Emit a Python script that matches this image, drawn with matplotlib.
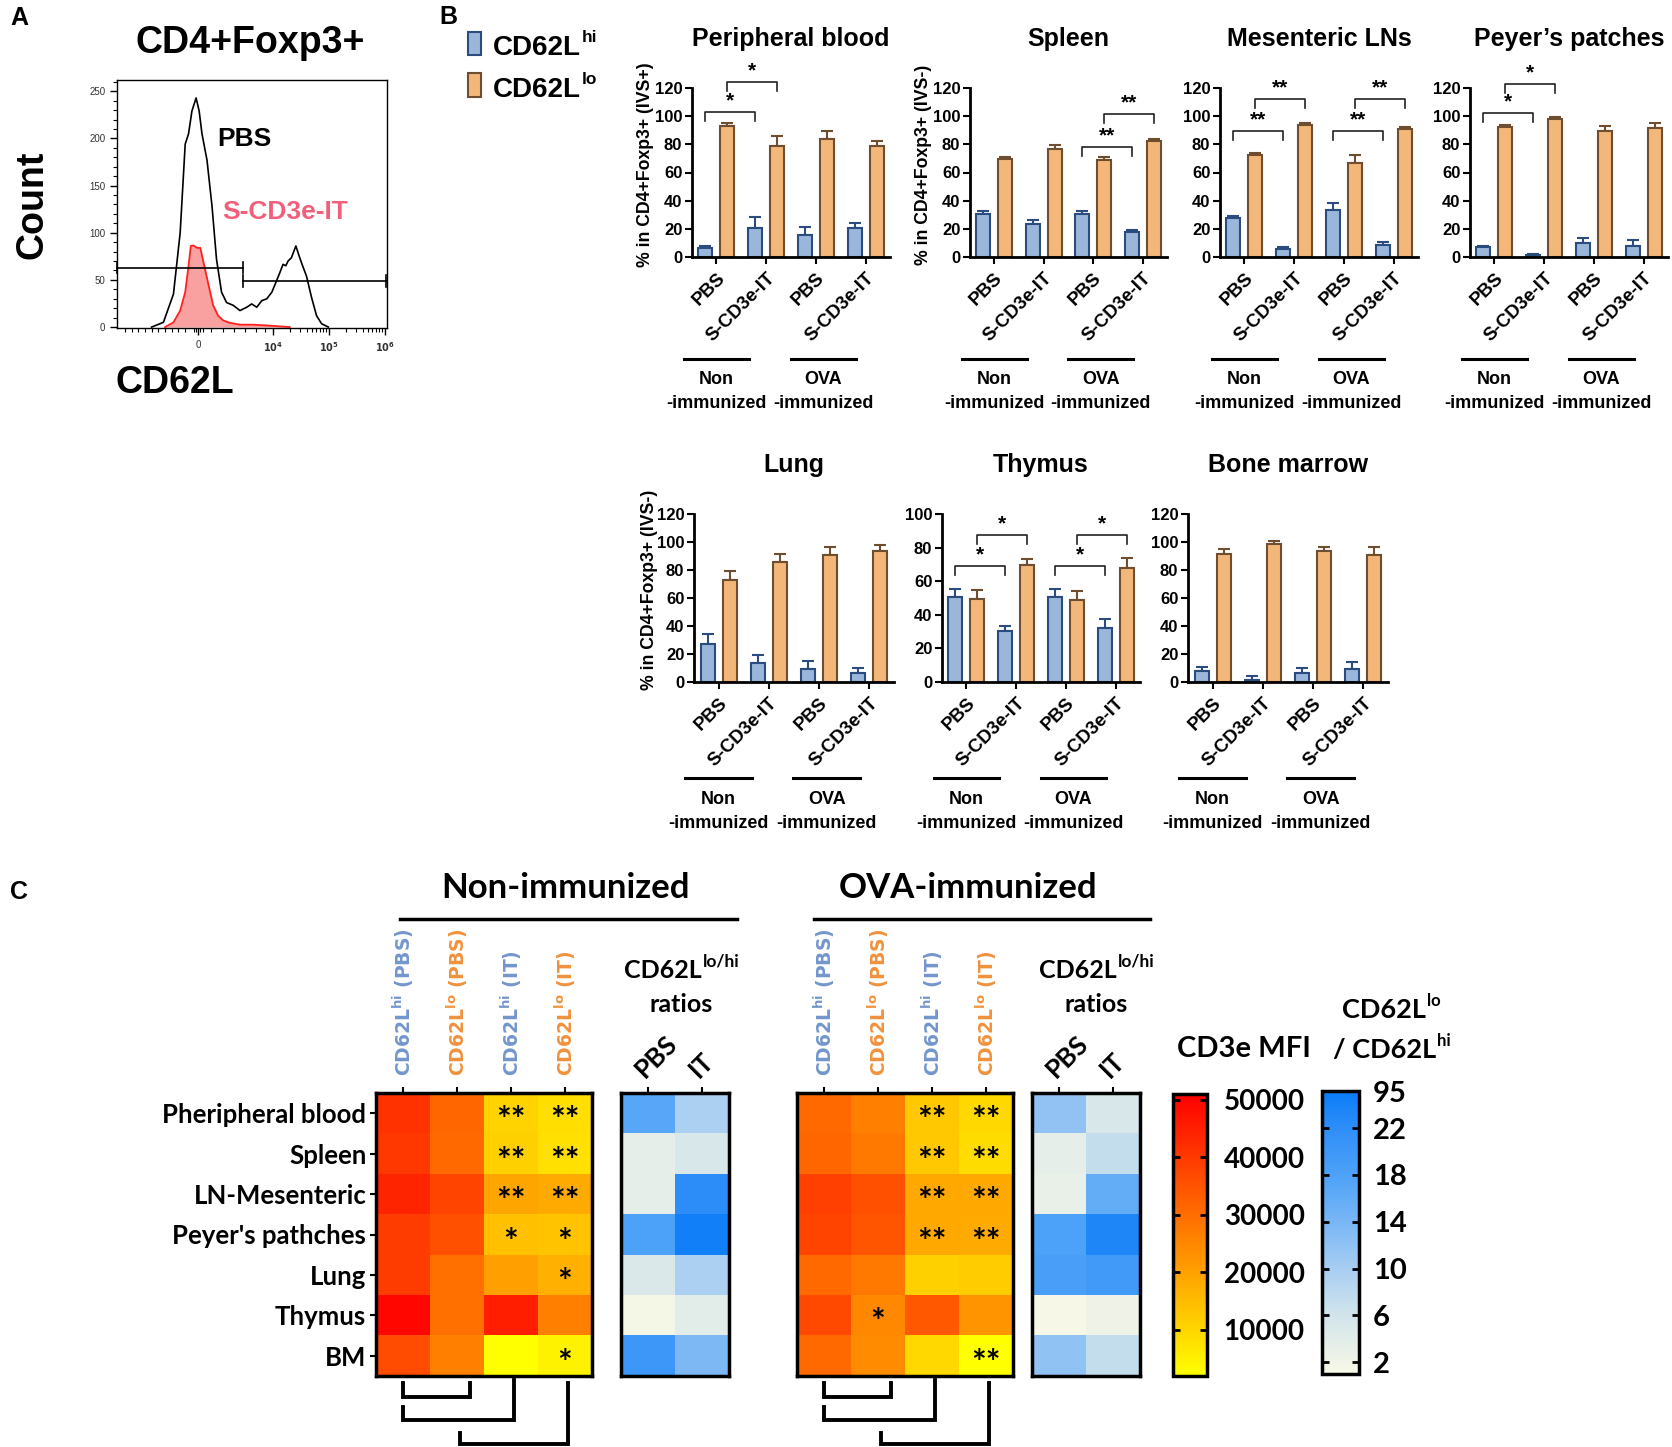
import numpy as np
import matplotlib
matplotlib.use('Agg')
import matplotlib.pyplot as plt
import matplotlib.transforms as mtransforms
import matplotlib.cm as cm
from matplotlib.colors import LinearSegmentedColormap, Normalize, FuncNorm
from matplotlib.patches import Rectangle

plt.rcParams['font.family'] = 'Liberation Sans'
plt.rcParams['font.weight'] = 'bold'

W, H = 1672, 1447
fig = plt.figure(figsize=(W / 100, H / 100), dpi=100)
C_FONT = 'Lato'

# ---------------------------------------------------------------------------
# Data
# ---------------------------------------------------------------------------

# panel A : CD62L histogram (x in decades of the biexponential axis, count)
hist_pbs_x = [1.83, 2.04, 2.22, 2.34, 2.43, 2.49, 2.55, 2.625, 2.68, 2.73, 2.82, 2.91,
              2.99, 3.08, 3.17, 3.29, 3.41, 3.53, 3.62, 3.71, 3.80, 3.89, 3.98, 4.05,
              4.125, 4.18, 4.23, 4.27, 4.33, 4.41, 4.47, 4.53, 4.60, 4.69, 4.78, 4.87, 4.99]
hist_pbs_count = [0, 5, 35, 100, 194, 205, 229, 243, 229, 205, 177, 128,
                  72, 37, 26, 23, 17.5, 21, 24.5, 21, 28, 30, 37, 47,
                  58, 66.5, 65, 70, 73.5, 86, 75, 65, 54, 31.5, 12, 3.5, 0]
hist_it_x = [2.07, 2.22, 2.34, 2.43, 2.49, 2.53, 2.58, 2.64, 2.70, 2.76, 2.85, 2.93,
             3.02, 3.11, 3.23, 3.41, 3.65, 3.89, 4.30]
hist_it_count = [0, 5, 17.5, 37, 65, 86, 86.5, 84, 84, 68, 44, 23,
                 12, 7, 4.5, 2.5, 2.5, 1.7, 0]
gate_lo = [1.21, 3.47, 63]
gate_hi = [3.47, 6.02, 49]

# panel B : % of CD62Lhi / CD62Llo cells (mean and SEM), 4 groups per organ
groups = ['PBS', 'S-CD3e-IT', 'PBS', 'S-CD3e-IT']
organs_b = ['Peripheral blood', 'Spleen', 'Mesenteric LNs', 'Peyer\u2019s patches',
            'Lung', 'Thymus', 'Bone marrow']
ylabels_b = ['% in CD4+Foxp3+ (IVS+)', '% in CD4+Foxp3+ (IVS-)', '', '',
             '% in CD4+Foxp3+ (IVS-)', '', '']
ymax_b = [120, 120, 120, 120, 120, 100, 120]
hi_mean = [[6.4, 20.6, 15.4, 20.6],
           [30.5, 23.4, 30.5, 17.8],
           [27.7, 5.7, 33.1, 8.5],
           [6.9, 1.2, 9.7, 8.0],
           [27.1, 13.5, 9.0, 6.2],
           [50.3, 30.3, 50.7, 31.9],
           [7.6, 1.7, 6.2, 9.3]]
hi_err = [[1.6, 7.6, 5.7, 3.5],
          [1.9, 2.6, 1.9, 1.6],
          [1.6, 1.4, 5.2, 1.9],
          [0.9, 1.2, 3.6, 4.1],
          [6.9, 6.0, 6.2, 4.0],
          [5.3, 3.2, 4.9, 5.5],
          [3.1, 2.3, 3.5, 4.7]]
lo_mean = [[93.3, 78.6, 83.8, 78.6],
           [69.3, 76.7, 68.9, 82.1],
           [72.4, 94.0, 66.7, 90.9],
           [92.3, 98.2, 89.5, 91.6],
           [72.5, 85.6, 90.8, 93.4],
           [49.3, 69.9, 48.9, 68.1],
           [91.7, 98.4, 93.4, 90.8]]
lo_err = [[1.8, 7.3, 5.7, 3.5],
          [1.7, 2.6, 2.1, 1.9],
          [1.4, 1.4, 5.7, 1.4],
          [1.2, 1.0, 3.3, 3.5],
          [6.9, 6.1, 5.7, 4.5],
          [5.2, 3.2, 5.2, 5.6],
          [3.1, 2.1, 3.3, 5.4]]
# significance: (first group, subset, bracket height, label); pairs group g with g+1
sig_b = [[(1, 'hi', 102.7, '*'), (1, 'lo', 124, '*')],
         [(3, 'hi', 78, '**'), (3, 'lo', 101.5, '**')],
         [(1, 'hi', 89.7, '**'), (1, 'lo', 112.2, '**'), (3, 'hi', 89.7, '**'), (3, 'lo', 112.2, '**')],
         [(1, 'hi', 102.2, '*'), (1, 'lo', 123, '*')],
         [],
         [(1, 'hi', 69, '*'), (1, 'lo', 87.3, '*'), (3, 'hi', 69, '*'), (3, 'lo', 87.3, '*')],
         []]

# panel C : CD3e MFI heatmaps and CD62Llo/hi ratios
rows_c = ['Pheripheral blood', 'Spleen', 'LN-Mesenteric', "Peyer's pathches", 'Lung', 'Thymus', 'BM']
cols_c = ['CD62L$^{\\mathbf{hi}}$ (PBS)', 'CD62L$^{\\mathbf{lo}}$ (PBS)',
          'CD62L$^{\\mathbf{hi}}$ (IT)', 'CD62L$^{\\mathbf{lo}}$ (IT)']
ratio_cols = ['PBS', 'IT']
mfi_non = [[41200, 31400, 10300, 8500],
           [39900, 30600, 11000, 8000],
           [44100, 37900, 19300, 18300],
           [39500, 35600, 14100, 13300],
           [39500, 29500, 20300, 17200],
           [49500, 29500, 44900, 26600],
           [36400, 26400, 2000, 4500]]
mfi_ova = [[30600, 26400, 12600, 9500],
           [31400, 27600, 12600, 8700],
           [38700, 35600, 18700, 18700],
           [37900, 34900, 18700, 18300],
           [30600, 27900, 11000, 11800],
           [37200, 24900, 34100, 22600],
           [30600, 24100, 9500, 2000]]
ratio_non = [[17, 9.5], [3.4, 5.3], [3.4, 22], [18, 80], [4.9, 9.5], [1.5, 3.9], [20, 13.6]]
ratio_ova = [[11.9, 5.3], [3.4, 7.3], [2.9, 16], [18, 50], [18.4, 19.4], [1.2, 2.2], [12, 7.3]]
stars_non = [['', '', '**', '**'], ['', '', '**', '**'], ['', '', '**', '**'], ['', '', '*', '*'],
             ['', '', '', '*'], ['', '', '', ''], ['', '', '', '*']]
stars_ova = [['', '', '**', '**'], ['', '', '**', '**'], ['', '', '**', '**'], ['', '', '**', '**'],
             ['', '', '', ''], ['', '*', '', ''], ['', '', '', '**']]
mfi_ticks = [10000, 20000, 30000, 40000, 50000]
ratio_ticks = [2, 6, 10, 14, 18, 22, 95]

# ---------------------------------------------------------------------------
# helpers (positions given in pixels of the 1672x1447 picture, from top-left)
# ---------------------------------------------------------------------------

def ax_px(l, t, r, b):
    return fig.add_axes([l / W, 1 - b / H, (r - l) / W, (b - t) / H])


def ftext(x, y, s, **kw):
    return fig.text(x / W, 1 - y / H, s, **kw)


def sup_text(x, y, base, sup, size, sup_size=None, ha='left', family='Liberation Sans', color='k'):
    # base text + superscript, y is the baseline
    r = fig.canvas.get_renderer()
    sup_size = sup_size or size * 0.62
    t1 = fig.text(0, 0, base, fontsize=size, family=family, weight='bold', color=color,
                  va='baseline', ha='left')
    t2 = fig.text(0, 0, sup, fontsize=sup_size, family=family, weight='bold', color=color,
                  va='baseline', ha='left')
    w1 = t1.get_window_extent(r).width
    w2 = t2.get_window_extent(r).width
    if ha == 'center':
        x = x - (w1 + w2) / 2
    t1.set_position((x / W, 1 - y / H))
    t2.set_position(((x + w1 + 1) / W, 1 - (y - 0.45 * size / 0.72) / H))


# ---------------------------------------------------------------------------
# Panel A
# ---------------------------------------------------------------------------
ftext(10, 18, 'A', fontsize=18, weight='bold', va='center')
ftext(250, 43, 'CD4+Foxp3+', fontsize=27, weight='bold', ha='center', va='center')
ftext(33, 205, 'Count', fontsize=27, weight='bold', rotation=90, ha='center', va='center')
ftext(175, 383, 'CD62L', fontsize=27, weight='bold', ha='center', va='center')

axA = ax_px(117, 80, 387, 328)
axA.fill_between(hist_it_x, hist_it_count, color='#F9A0A0', lw=0)
axA.plot(hist_it_x, hist_it_count, color='#FF2020', lw=1.3)
axA.plot(hist_pbs_x, hist_pbs_count, color='black', lw=1.2)
for g in [gate_lo, gate_hi]:
    axA.plot([g[0], g[1]], [g[2], g[2]], color='black', lw=1.2, clip_on=False)
    axA.plot([g[1], g[1]], [g[2] - 6, g[2] + 6], color='black', lw=1.2, clip_on=False)
    axA.plot([g[0], g[0]], [g[2] - 6, g[2] + 6], color='black', lw=1.2, clip_on=False)
axA.set_xlim(1.21, 6.04)
axA.set_ylim(-1, 262)
axA.set_xticks([2.66, 4, 5, 6])
axA.set_xticklabels(['0', '$10^4$', '$10^5$', '$10^6$'], fontsize=7, weight='normal', color='#333333')
minor_x = list(np.arange(1.35, 2.55, 0.12)) + [2.58, 2.62, 2.70, 2.74, 2.9, 3.1, 3.3, 3.5, 3.7, 3.85]
for d in [4, 5]:
    minor_x += list(d + np.log10(np.arange(2, 10)))
axA.set_xticks(minor_x, minor=True)
axA.set_yticks(range(0, 251, 50))
axA.set_yticks(range(0, 261, 10), minor=True)
axA.tick_params(axis='y', labelsize=7, labelcolor='#333333')
axA.tick_params(which='major', length=5, width=1)
axA.tick_params(which='minor', length=3, width=0.8)
for lbl in axA.get_yticklabels():
    lbl.set_fontweight('normal')
for sp in axA.spines.values():
    sp.set_linewidth(1)
axA.text(3.0, 199.5, 'PBS', fontsize=19, weight='bold', va='center', ha='left')
axA.text(3.09, 122.5, 'S-CD3e-IT', fontsize=19, weight='bold', va='center', ha='left', color='#F0607A')

# ---------------------------------------------------------------------------
# Panel B
# ---------------------------------------------------------------------------
BLUE, BLUE_EDGE = '#9AB6DA', '#2B4C7E'
ORANGE, ORANGE_EDGE = '#F4B77A', '#6E4E2E'

ftext(439, 17, 'B', fontsize=18, weight='bold', va='center')
fig.patches.append(Rectangle((468 / W, 1 - 55 / H), 13 / W, 23 / H, transform=fig.transFigure,
                             facecolor=BLUE, edgecolor=BLUE_EDGE, lw=1.5))
fig.patches.append(Rectangle((468 / W, 1 - 97 / H), 13 / W, 24 / H, transform=fig.transFigure,
                             facecolor=ORANGE, edgecolor=ORANGE_EDGE, lw=1.5))
sup_text(493, 55, 'CD62L', 'hi', 20)
sup_text(493, 97, 'CD62L', 'lo', 20)

layout_b = [(692, 890, 88, 257), (970, 1167, 88, 257), (1220, 1418, 88, 257), (1470, 1668, 88, 257),
            (694, 894, 514, 682), (942, 1140, 514, 682), (1188, 1388, 514, 682)]
ylabel_x = [646, 923, None, None, 649, None, None]

for k in range(7):
    l, r, t, b = layout_b[k]
    ax = ax_px(l, t, r, b)
    x = np.arange(1, 5)
    ax.bar(x - 0.22, hi_mean[k], 0.28, color=BLUE, edgecolor=BLUE_EDGE, lw=1.5, zorder=2)
    ax.bar(x + 0.22, lo_mean[k], 0.28, color=ORANGE, edgecolor=ORANGE_EDGE, lw=1.5, zorder=2)
    ax.errorbar(x - 0.22, hi_mean[k], yerr=[np.zeros(4), hi_err[k]], fmt='none',
                ecolor=BLUE_EDGE, elinewidth=1.5, capsize=4, capthick=1.5, zorder=1)
    ax.errorbar(x + 0.22, lo_mean[k], yerr=[np.zeros(4), lo_err[k]], fmt='none',
                ecolor=ORANGE_EDGE, elinewidth=1.5, capsize=4, capthick=1.5, zorder=1)
    ymax = ymax_b[k]
    ax.set_xlim(0.51, 4.49)
    ax.set_ylim(0, ymax)
    ax.set_yticks(range(0, ymax + 1, 20))
    ax.set_xticks(x)
    ax.set_xticklabels(groups, rotation=45, ha='right', rotation_mode='anchor', fontsize=13.5)
    ax.tick_params(axis='y', labelsize=12, length=5, width=1.5, pad=2)
    ax.tick_params(axis='x', length=5, width=1.5, pad=4)
    for s in ['top', 'right']:
        ax.spines[s].set_visible(False)
    for s in ['left', 'bottom']:
        ax.spines[s].set_linewidth(2)
    ftext((l + r) / 2, t - 49, organs_b[k], fontsize=18, weight='bold', ha='center', va='center')
    if ylabel_x[k]:
        ftext(ylabel_x[k], (t + b) / 2 - 8, ylabels_b[k], fontsize=12.7, weight='bold',
              rotation=90, ha='center', va='center')
    # significance brackets
    leg = 0.054 * ymax
    for g, sub, ytop, lab in sig_b[k]:
        off = -0.22 if sub == 'hi' else 0.22
        x1, x2 = g + off, g + 1 + off
        ax.plot([x1, x1, x2, x2], [ytop - leg, ytop, ytop, ytop - leg], color='#222222',
                lw=1.2, clip_on=False)
        ax.text((x1 + x2) / 2, ytop + 0.01 * ymax, lab, ha='center', va='bottom',
                fontsize=15, weight='bold')
    # immunization group lines
    tr = mtransforms.blended_transform_factory(ax.transData, fig.transFigure)
    yl = 359 if k < 4 else 778
    for xc, name in [(1.0, 'Non'), (3.15, 'OVA')]:
        ax.plot([xc - 0.66, xc + 0.66], [1 - yl / H] * 2, color='black', lw=2.2,
                transform=tr, clip_on=False)
        ax.text(xc, 1 - (yl + 21) / H, name, transform=tr, ha='center', va='center', fontsize=13)
        ax.text(xc, 1 - (yl + 45) / H, '-immunized', transform=tr, ha='center', va='center',
                fontsize=13)

# ---------------------------------------------------------------------------
# Panel C
# ---------------------------------------------------------------------------
ftext(10, 892, 'C', fontsize=18, weight='bold', va='center')

mfi_cmap = LinearSegmentedColormap.from_list('mfi', ['#FFFF00', '#FF0000'])
mfi_norm = Normalize(vmin=2000, vmax=51000)
ratio_cmap = LinearSegmentedColormap.from_list(
    'ratio', [(0, '#F8F8E6'), (0.2, '#D3E5EB'), (0.37, '#A8CEF2'), (0.54, '#78B6F6'),
              (0.70, '#4EA2F8'), (0.87, '#2E8EF8'), (1, '#0A7CF8')])
ratio_norm = FuncNorm((lambda v: np.interp(v, [1, 22, 95], [0, 0.869, 1]),
                       lambda u: np.interp(u, [0, 0.869, 1], [1, 22, 95])), vmin=1, vmax=95)

hi_col = '#7396CC'
lo_col = '#F0923C'
col_colors = [hi_col, lo_col, hi_col, lo_col]


def heatmap(box, data, stars, row_labels):
    ax = ax_px(*box)
    ax.imshow(np.array(data), cmap=mfi_cmap, norm=mfi_norm, aspect='auto', interpolation='nearest')
    ax.xaxis.tick_top()
    ax.set_xticks(range(4))
    ax.set_xticklabels(cols_c, rotation=90, fontsize=13.5, family='DejaVu Sans',
                       weight='bold', va='bottom', ha='center')
    for lbl, c in zip(ax.get_xticklabels(), col_colors):
        lbl.set_color(c)
    ax.set_yticks(range(7))
    if row_labels:
        ax.set_yticklabels(rows_c, fontsize=18.5, family=C_FONT, weight='bold')
        ax.tick_params(axis='y', length=4, width=1.5, pad=3)
    else:
        ax.set_yticklabels([])
        ax.tick_params(axis='y', length=0)
    ax.tick_params(axis='x', length=4, width=1.5, pad=8)
    for sp in ax.spines.values():
        sp.set_linewidth(2.5)
    for i in range(7):
        for j in range(4):
            if stars[i][j]:
                ax.text(j, i + 0.2, stars[i][j], ha='center', va='center', fontsize=25,
                        family=C_FONT, weight='bold')
    # comparison brackets under the heatmap
    for xs, ys in [([0, 0, 1.24, 1.24], [6.67, 7.02, 7.02, 6.67]),
                   ([0, 0, 2.06, 2.06], [7.27, 7.59, 7.59, 6.6]),
                   ([1.06, 1.06, 3.06, 3.06], [7.91, 8.18, 8.18, 6.67])]:
        ax.plot(xs, ys, color='black', lw=2.8, clip_on=False, solid_joinstyle='miter')
    ax.set_xlim(-0.5, 3.5)
    ax.set_ylim(6.5, -0.5)
    return ax


def ratio_map(box, data):
    ax = ax_px(*box)
    ax.imshow(np.array(data), cmap=ratio_cmap, norm=ratio_norm, aspect='auto', interpolation='nearest')
    ax.xaxis.tick_top()
    ax.set_xticks(range(2))
    ax.set_xticklabels(ratio_cols, rotation=45, ha='left', va='bottom', rotation_mode='anchor',
                       fontsize=19, family=C_FONT, weight='bold')
    ax.set_yticks([])
    ax.tick_params(axis='x', length=4, width=1.5, pad=4)
    for sp in ax.spines.values():
        sp.set_linewidth(2.5)
    return ax


heatmap((376, 1093, 592, 1376), mfi_non, stars_non, True)
ratio_map((621, 1093, 729, 1376), ratio_non)
heatmap((797, 1093, 1013, 1376), mfi_ova, stars_ova, False)
ratio_map((1032, 1093, 1140, 1376), ratio_ova)

# group headers
for xc, x1, x2, name in [(566, 400, 737, 'Non-immunized'), (968, 814, 1150, 'OVA-immunized')]:
    ftext(xc, 888, name, fontsize=25, family=C_FONT, weight='bold', ha='center', va='center')
    fig.add_artist(plt.Line2D([x1 / W, x2 / W], [1 - 919 / H] * 2, color='black', lw=2.5))
for xc in [681, 1096]:
    sup_text(xc, 978, 'CD62L', 'lo/hi', 18, sup_size=12.5, ha='center', family=C_FONT)
    ftext(xc, 1004, 'ratios', fontsize=18, family=C_FONT, weight='bold', ha='center', va='center')

# colorbars
cax1 = ax_px(1173, 1094, 1207, 1376)
cb1 = fig.colorbar(cm.ScalarMappable(norm=mfi_norm, cmap=mfi_cmap), cax=cax1, ticks=mfi_ticks)
cb1.ax.set_yticklabels([str(t) for t in mfi_ticks], fontsize=20, family=C_FONT, weight='bold')
cb1.ax.tick_params(direction='in', left=True, right=True, length=5, width=2, pad=12)
cb1.outline.set_linewidth(2.5)
ftext(1244, 1049, 'CD3e MFI', fontsize=21, family=C_FONT, weight='bold', ha='center', va='center')

cax2 = ax_px(1322, 1091, 1359, 1374)
cb2 = fig.colorbar(cm.ScalarMappable(norm=ratio_norm, cmap=ratio_cmap), cax=cax2, ticks=ratio_ticks)
cb2.ax.set_yticklabels([str(t) for t in ratio_ticks], fontsize=21, family=C_FONT, weight='bold')
cb2.ax.tick_params(direction='in', left=True, right=True, length=5, width=2, pad=10)
cb2.ax.minorticks_off()
cb2.outline.set_linewidth(2.5)
sup_text(1391, 1018, 'CD62L', 'lo', 19.5, ha='center', family=C_FONT)
sup_text(1391, 1058, '/ CD62L', 'hi', 19.5, ha='center', family=C_FONT)

fig.savefig('out.png', dpi=100)
